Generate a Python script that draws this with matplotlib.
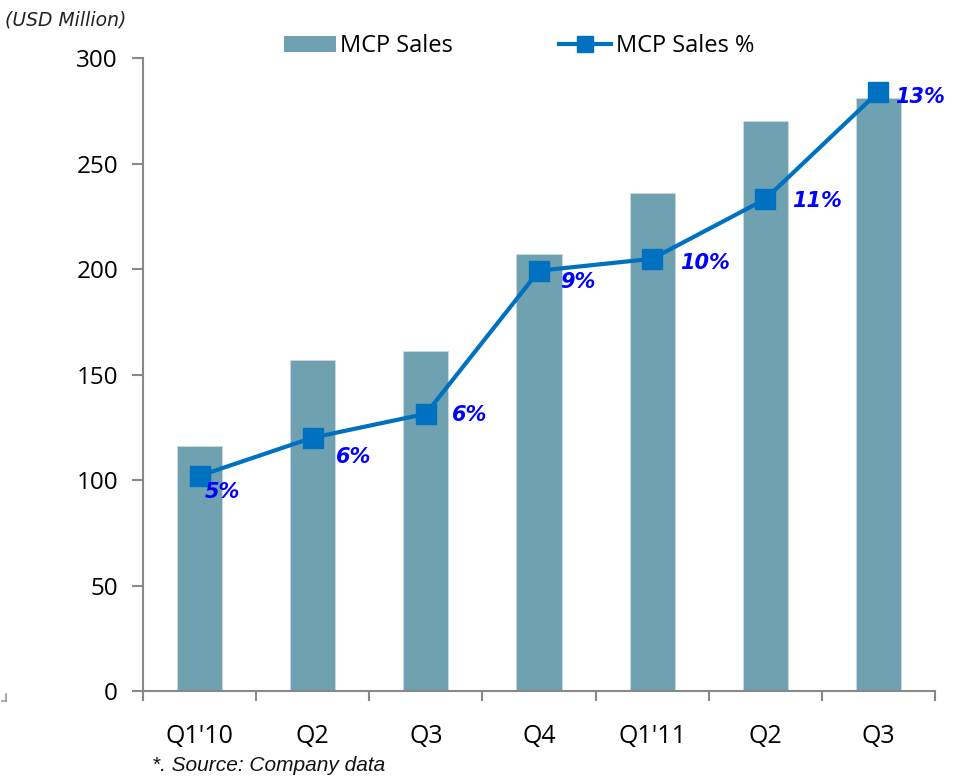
import matplotlib
matplotlib.use("Agg")
import matplotlib.pyplot as plt
from matplotlib.lines import Line2D
from matplotlib.patches import Patch

quarters = ["Q1'10", "Q2", "Q3", "Q4", "Q1'11", "Q2", "Q3"]
sales = [116, 157, 161, 207, 236, 270, 281]          # USD million
sales_pct = [5.0, 5.8, 6.3, 9.3, 9.55, 10.8, 13.05]  # % share

# label placement (points)
label_offsets = [(4, -12), (17, -14), (19, -1), (15, -8), (20, -3), (19, -1.5), (12, -4)]

plt.rcParams['font.family'] = ['Open Sans', 'DejaVu Sans']

fig = plt.figure(figsize=(9.56, 7.81), dpi=100)
ax = fig.add_axes([0.1496, 0.1152, 0.8284, 0.8105])

bar_color = '#6FA1B1'
line_color = '#0070C0'
spine_color = '#888888'

x = list(range(len(quarters)))
ax.bar(x, sales, width=0.4, color=bar_color, edgecolor='#C9DCE2', linewidth=0.6, zorder=2)

ax.set_xlim(-0.5, len(quarters) - 0.5)
ax.set_ylim(0, 300)
ax.set_yticks(range(0, 301, 50))
ax.set_xticks(x)
ax.set_xticklabels(quarters)
ax.set_xticks([i - 0.5 for i in range(len(quarters) + 1)], minor=True)
ax.tick_params(axis='x', which='major', length=0, pad=24, labelsize=18)
ax.tick_params(axis='x', which='minor', length=7, width=1.5, color=spine_color, direction='out')
ax.tick_params(axis='y', length=8, width=1.5, color=spine_color, pad=10, labelsize=17.5)

for s in ['top', 'right']:
    ax.spines[s].set_visible(False)
for s in ['left', 'bottom']:
    ax.spines[s].set_color(spine_color)
    ax.spines[s].set_linewidth(1.5)

ax2 = ax.twinx()
ax2.set_ylim(0.487, 13.76)
ax2.axis('off')
ax2.plot(x, sales_pct, color=line_color, linewidth=3, marker='s', markersize=14,
         markerfacecolor=line_color, markeredgecolor=line_color, zorder=3)
for xi, v, off in zip(x, sales_pct, label_offsets):
    ax2.annotate(f"{v:.0f}%", (xi, v), xytext=off, textcoords='offset points',
                 ha='left', va='center', fontsize=15, fontweight='bold', fontstyle='italic',
                 color='#0000FF', family='DejaVu Sans')

handles = [Patch(facecolor=bar_color, edgecolor='none'),
           Line2D([0], [0], color=line_color, linewidth=3, marker='s', markersize=11)]
fig.legend(handles, ["MCP Sales", "MCP Sales %"], loc='center', ncol=2,
           bbox_to_anchor=(0.543, 0.941), frameon=False, fontsize=17,
           handlelength=2.2, handletextpad=0.2, columnspacing=4.5, handleheight=0.65)

fig.text(0.005, 0.975, "(USD Million)", fontsize=13.5, fontstyle='italic', color='#222222',
         family='DejaVu Sans', va='center', ha='left')
fig.text(0.159, 0.02, "*. Source: Company data", fontsize=15, fontstyle='italic', color='#111111',
         family='Liberation Sans', va='center', ha='left')

# small corner mark at bottom-left
fig.add_artist(Line2D([0.0065, 0.0065], [0.1025, 0.1113], color='#999999', linewidth=1.2))
fig.add_artist(Line2D([0.002, 0.0065], [0.1025, 0.1025], color='#999999', linewidth=1.2))

fig.savefig("out.png", dpi=100)
